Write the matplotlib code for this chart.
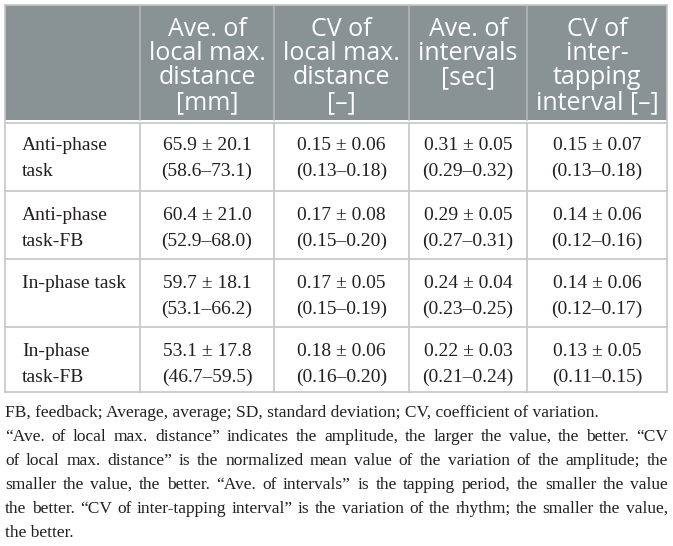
import matplotlib
matplotlib.use("Agg")
import matplotlib.pyplot as plt
from matplotlib.patches import Rectangle

# table content
col_headers = [
    [],
    ["Ave. of", "local max.", "distance", "[mm]"],
    ["CV of", "local max.", "distance", "[\u2013]"],
    ["Ave. of", "intervals", "[sec]"],
    ["CV of", "inter-", "tapping", "interval [\u2013]"],
]
row_labels = [["Anti-phase", "task"], ["Anti-phase", "task-FB"],
              ["In-phase task"], ["In-phase", "task-FB"]]

amp_mean = [65.9, 60.4, 59.7, 53.1]
amp_sd = [20.1, 21.0, 18.1, 17.8]
amp_lo = [58.6, 52.9, 53.1, 46.7]
amp_hi = [73.1, 68.0, 66.2, 59.5]

cv_amp_mean = [0.15, 0.17, 0.17, 0.18]
cv_amp_sd = [0.06, 0.08, 0.05, 0.06]
cv_amp_lo = [0.13, 0.15, 0.15, 0.16]
cv_amp_hi = [0.18, 0.20, 0.19, 0.20]

int_mean = [0.31, 0.29, 0.24, 0.22]
int_sd = [0.05, 0.05, 0.04, 0.03]
int_lo = [0.29, 0.27, 0.23, 0.21]
int_hi = [0.32, 0.31, 0.25, 0.24]

cv_int_mean = [0.15, 0.14, 0.14, 0.13]
cv_int_sd = [0.07, 0.06, 0.06, 0.05]
cv_int_lo = [0.13, 0.12, 0.12, 0.11]
cv_int_hi = [0.18, 0.16, 0.17, 0.15]

footnote_lines = [
    "FB, feedback; Average, average; SD, standard deviation; CV, coefficient of variation.",
    "\u201cAve. of local max. distance\u201d indicates the amplitude, the larger the value, the better. \u201cCV",
    "of local max. distance\u201d is the normalized mean value of the variation of the amplitude; the",
    "smaller the value, the better. \u201cAve. of intervals\u201d is the tapping period, the smaller the value",
    "the better. \u201cCV of inter-tapping interval\u201d is the variation of the rhythm; the smaller the value,",
    "the better.",
]
footnote_justify = [False, True, True, True, True, False]

# layout in pixels
W, H = 673, 546
col_x = [5, 140, 274, 409, 527, 667]
row_y = [5, 121, 191, 259, 327, 392]
header_bg = "#899295"
grid_col = "#c6c6c6"
text_col = "#231f20"
serif = "Liberation Serif"
sans = "Open Sans"

fig = plt.figure(figsize=(W / 100, H / 100), dpi=100)
ax = fig.add_axes([0, 0, 1, 1])
ax.set_xlim(0, W)
ax.set_ylim(H, 0)
ax.axis("off")

# header band
ax.add_patch(Rectangle((col_x[0], row_y[0]), col_x[-1] - col_x[0], row_y[1] - row_y[0] - 1,
                       facecolor=header_bg, edgecolor="none"))
for x in col_x[1:-1]:
    ax.plot([x, x], [row_y[0], row_y[1] - 1], color="#b3b9bb", lw=1.1)

# grid
for y in row_y[1:]:
    yy = y + 2 if y == row_y[1] else y
    ax.plot([col_x[0], col_x[-1]], [yy, yy], color=grid_col, lw=1.2)
for x in col_x:
    ax.plot([x, x], [row_y[1] + 2, row_y[-1]], color=grid_col, lw=1.2)
ax.plot([col_x[0], col_x[-1]], [row_y[0], row_y[0]], color=grid_col, lw=1.2)
for x in (col_x[0], col_x[-1]):
    ax.plot([x, x], [row_y[0], row_y[1]], color=grid_col, lw=1.2)

# header text
for c, lines in enumerate(col_headers):
    xc = (col_x[c] + col_x[c + 1]) / 2
    for i, s in enumerate(lines):
        ax.text(xc, 29 + i * 24.5, s, ha="center", va="center", color="white",
                fontsize=18, family=sans)

# body
cols = [
    (amp_mean, amp_sd, amp_lo, amp_hi, "{:.1f}"),
    (cv_amp_mean, cv_amp_sd, cv_amp_lo, cv_amp_hi, "{:.2f}"),
    (int_mean, int_sd, int_lo, int_hi, "{:.2f}"),
    (cv_int_mean, cv_int_sd, cv_int_lo, cv_int_hi, "{:.2f}"),
]
for r in range(len(row_labels)):
    y1 = row_y[r + 1] + 24
    y2 = y1 + 26
    for i, s in enumerate(row_labels[r]):
        ax.text(22, y1 + i * 26, s, ha="left", va="center", color=text_col,
                fontsize=14, family=serif)
    for c, (m, sd, lo, hi, fmt) in enumerate(cols):
        xc = (col_x[c + 1] + col_x[c + 2]) / 2
        ax.text(xc, y1, fmt.format(m[r]) + " \u00b1 " + fmt.format(sd[r]),
                ha="center", va="center", color=text_col, fontsize=14, family=serif)
        ax.text(xc, y2, "(" + fmt.format(lo[r]) + "\u2013" + fmt.format(hi[r]) + ")",
                ha="center", va="center", color=text_col, fontsize=14, family=serif)

# footnote with justified lines
renderer = fig.canvas.get_renderer()
left, right = 5, 668
for i, (line, just) in enumerate(zip(footnote_lines, footnote_justify)):
    y = 413 + i * 24
    if not just:
        ax.text(left, y, line, ha="left", va="center", color=text_col,
                fontsize=12.5, family=serif)
        continue
    words = line.split(" ")
    objs = [ax.text(0, y, w, ha="left", va="center", color=text_col,
                    fontsize=12.5, family=serif) for w in words]
    widths = [t.get_window_extent(renderer).width for t in objs]
    gap = (right - left - sum(widths)) / (len(words) - 1)
    x = left
    for t, w in zip(objs, widths):
        t.set_x(x)
        x += w + gap

fig.savefig("out.png", dpi=100)
